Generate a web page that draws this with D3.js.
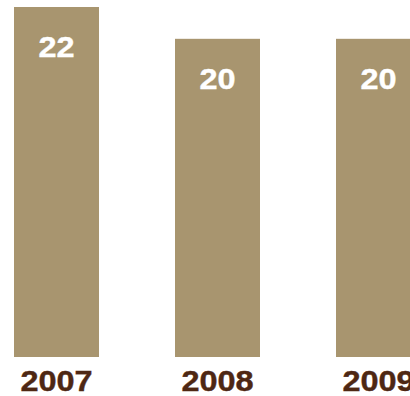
<!DOCTYPE html>
<html>
<head>
<meta charset="utf-8">
<script src="https://cdn.jsdelivr.net/npm/d3@7"></script>
<style>
html,body{margin:0;padding:0;background:#fff;overflow:hidden;}
svg{display:block;}
</style>
</head>
<body>
<svg id="chart" width="410" height="396"></svg>
<script>
const categories = ["2007", "2008", "2009"];
const values = [22, 20, 20];

const svg = d3.select("#chart");
const x = d3.scaleBand().domain(categories).range([14, 421]).paddingInner(76/161).paddingOuter(0);
const y = d3.scaleLinear().domain([0, 22]).range([357, 7]);

const data = categories.map((c, i) => ({c, v: values[i]}));
const fs = 29.5;
const stretch = 1.1;
const widthOf = s => String(s).length * 0.556 * fs * stretch;

svg.selectAll("rect.bar").data(data).enter().append("rect")
  .attr("class", "bar")
  .attr("x", d => x(d.c))
  .attr("y", d => y(d.v))
  .attr("width", x.bandwidth())
  .attr("height", d => y(0) - y(d.v))
  .attr("fill", "#a8956f");

svg.selectAll("text.val").data(data).enter().append("text")
  .attr("class", "val")
  .attr("x", d => x(d.c) + x.bandwidth() / 2)
  .attr("y", d => y(d.v) + 50)
  .attr("text-anchor", "middle")
  .attr("font-family", "Liberation Sans, Arial, sans-serif")
  .attr("font-weight", "bold")
  .attr("font-size", fs)
  .attr("textLength", d => widthOf(d.v))
  .attr("lengthAdjust", "spacingAndGlyphs")
  .attr("fill", "#ffffff")
  .attr("stroke", "#ffffff")
  .attr("stroke-width", 0.4)
  .text(d => d.v);

svg.selectAll("text.cat").data(data).enter().append("text")
  .attr("class", "cat")
  .attr("x", d => x(d.c) + x.bandwidth() / 2)
  .attr("y", 390.5)
  .attr("text-anchor", "middle")
  .attr("font-family", "Liberation Sans, Arial, sans-serif")
  .attr("font-weight", "bold")
  .attr("font-size", fs)
  .attr("textLength", d => widthOf(d.c))
  .attr("lengthAdjust", "spacingAndGlyphs")
  .attr("fill", "#4e2713")
  .attr("stroke", "#4e2713")
  .attr("stroke-width", 0.4)
  .text(d => d.c);
</script>
</body>
</html>
